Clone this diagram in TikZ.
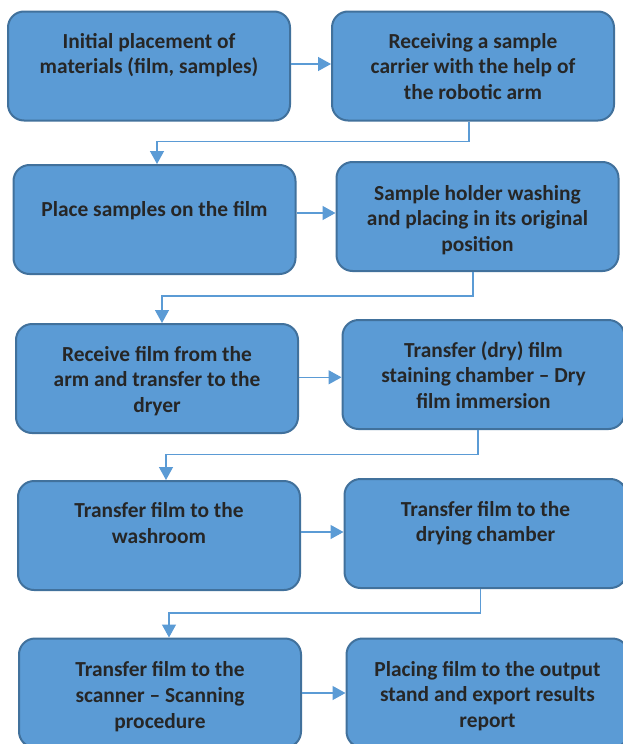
\documentclass[tikz,border=0pt]{standalone}
\usepackage{fontspec}
\setmainfont{Carlito}
\usetikzlibrary{arrows.meta}
\definecolor{boxfill}{HTML}{5B9BD5}
\definecolor{boxline}{HTML}{41719C}
\definecolor{conncol}{HTML}{5B9BD5}
\definecolor{txtcol}{HTML}{262626}
\begin{document}
\begin{tikzpicture}[x=1pt,y=-1pt,
  flowbox/.style={draw=boxline, fill=boxfill, line width=2pt, rounded corners=16pt,
    minimum width=282pt, minimum height=109pt, inner sep=0pt},
  flowtxt/.style={text=txtcol, font=\fontsize{21.4pt}{25.8pt}\selectfont\bfseries,
    align=center, anchor=base, inner sep=0pt},
  conn/.style={draw=conncol, line width=1.3pt, -{Triangle[length=13pt,width=14pt]}}]
\useasboundingbox[fill=white] (0,0) rectangle (622,744);

\node[flowbox] (a) at (149,66) {};
\node[flowbox] (b) at (473,66) {};
\node[flowbox] (c) at (154.5,219.5) {};
\node[flowbox] (d) at (477.5,216.5) {};
\node[flowbox] (e) at (157,378.5) {};
\node[flowbox] (f) at (483.5,374.5) {};
\node[flowbox] (g) at (159,535.5) {};
\node[flowbox] (h) at (485.5,533.5) {};
\node[flowbox] (i) at (160,693) {};
\node[flowbox] (j) at (487.5,693) {};

% text nodes: anchor=base sits on the last line's baseline
\node[flowtxt] (ta) at (149,73.8) {Initial placement of\\materials (film, samples)};
\node[flowtxt] (tb) at (473,99.6) {Receiving a sample\\carrier with the help of\\the robotic arm};
\node[flowtxt] (tc) at (154.5,216) {Place samples on the film};
\node[flowtxt] (td) at (477.5,251.6) {Sample holder washing\\and placing in its original\\position};
\node[flowtxt] (te) at (157,412.6) {Receive film from the\\arm and transfer to the\\dryer};
\node[flowtxt] (tf) at (483.5,408.6) {Transfer (dry) film\\staining chamber – Dry\\film immersion};
\node[flowtxt] (tg) at (159,543.3) {Transfer film to the\\washroom};
\node[flowtxt] (th) at (485.5,541.8) {Transfer film to the\\drying chamber};
\node[flowtxt] (ti) at (160,728.1) {Transfer film to the\\scanner – Scanning\\procedure};
\node[flowtxt] (tj) at (487.5,727.6) {Placing film to the output\\stand and export results\\report};

% horizontal arrows
\coordinate (ab) at ([yshift=2pt]a.east);
\draw[conn] (ab) -- (ab -| b.west);
\coordinate (cd) at ([yshift=6.5pt]c.east);
\draw[conn] (cd) -- (cd -| d.west);
\coordinate (ef) at ([yshift=1.2pt]e.east);
\draw[conn] (ef) -- (ef -| f.west);
\coordinate (gh) at ([yshift=3.5pt]g.east);
\draw[conn] (gh) -- (gh -| h.west);
\coordinate (ij) at (i.east);
\draw[conn] (ij) -- (ij -| j.west);

% elbow connectors
\coordinate (bs) at ([xshift=-4pt]b.south);
\coordinate (cn) at ([xshift=2.5pt]c.north);
\draw[conn] (bs) -- ++(0,20) -| (cn);
\coordinate (ds) at ([xshift=-4.5pt]d.south);
\coordinate (en) at ([xshift=5pt]e.north);
\draw[conn] (ds) -- ++(0,24) -| (en);
\coordinate (fs) at ([xshift=-5.5pt]f.south);
\coordinate (gn) at ([xshift=7pt]g.north);
\draw[conn] (fs) -- ++(0,24.5) -| (gn);
\coordinate (hs) at ([xshift=-5pt]h.south);
\coordinate (in) at ([xshift=9pt]i.north);
\draw[conn] (hs) -- ++(0,24) -| (in);
\end{tikzpicture}
\end{document}
